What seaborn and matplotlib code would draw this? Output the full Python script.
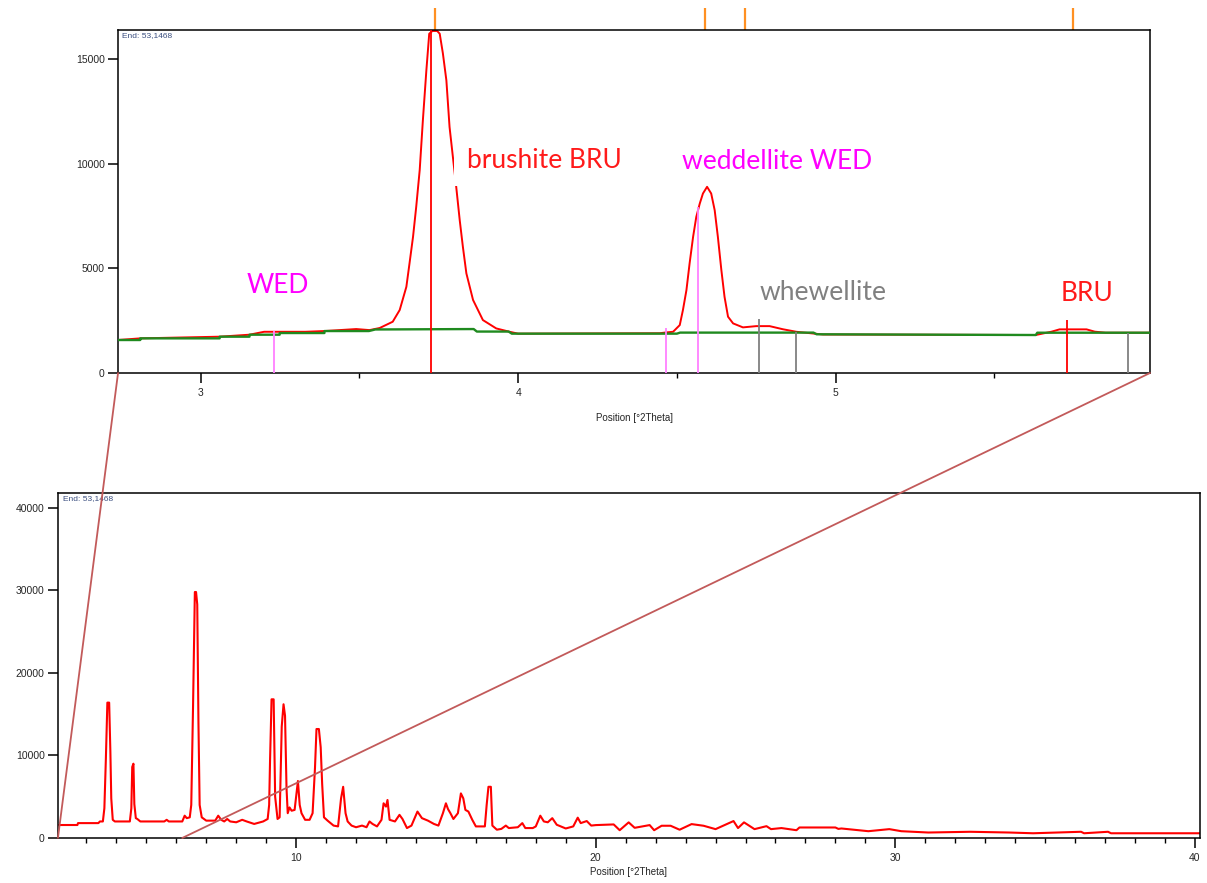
import numpy as np
import matplotlib
matplotlib.use("Agg")
import matplotlib.pyplot as plt
from matplotlib.patches import ConnectionPatch
import seaborn as sns

# ── Zoomed profile (2.74 - 5.99 °2Theta) ──────────────────────
zoom_x = [2.74, 2.81, 3.06, 3.154, 3.20, 3.33, 3.39, 3.49, 3.532, 3.564, 3.605,
          3.627, 3.648, 3.658, 3.669, 3.679, 3.690, 3.700, 3.711, 3.720, 3.730,
          3.745, 3.753, 3.763, 3.774, 3.784, 3.805, 3.816, 3.826, 3.837, 3.858,
          3.889, 3.931, 3.973, 4.00, 4.446, 4.467, 4.488, 4.509, 4.519, 4.530,
          4.540, 4.551, 4.561, 4.572, 4.582, 4.595, 4.608, 4.619, 4.629, 4.640,
          4.650, 4.661, 4.677, 4.708, 4.750, 4.792, 4.834, 4.876, 4.908, 4.960,
          5.63, 5.68, 5.705, 5.79, 5.816, 5.85, 5.99]
zoom_y = [1576, 1655, 1735, 1830, 1970, 1970, 2005, 2100, 2050, 2150, 2450,
          3010, 4120, 5250, 6510, 7940, 9700, 12080, 14470, 16220, 16350,
          16350, 16220, 15280, 13990, 11760, 8900, 7310, 6030, 4760, 3490,
          2530, 2130, 1970, 1880, 1900, 1940, 1970, 2290, 3010, 3960,
          5240, 6510, 7460, 8100, 8580, 8900, 8580, 7780, 6510, 4920,
          3640, 2690, 2370, 2180, 2240, 2240, 2090, 1970, 1920, 1840,
          1815, 1975, 2085, 2085, 1975, 1925, 1925]

bg_x = [2.74, 2.81, 2.81, 3.06, 3.06, 3.154, 3.154, 3.249, 3.249, 3.39, 3.39,
        3.53, 3.55, 3.86, 3.87, 3.97, 3.98, 4.50, 4.51, 4.93, 4.94, 5.63,
        5.635, 5.99]
bg_y = [1576, 1576, 1655, 1655, 1735, 1735, 1830, 1830, 1910, 1910, 2005,
        2005, 2080, 2100, 1980, 1980, 1880, 1880, 1930, 1930, 1850, 1815,
        1925, 1925]

# reference sticks (position, height)
wed_x = [3.231, 4.467, 4.566]
wed_h = [2020, 2130, 7950]
bru_x = [3.726, 5.729]
bru_h = [16400, 2530]
whe_x = [4.759, 4.874, 5.921]
whe_h = [2560, 1970, 1895]
orange_x = [3.737, 4.587, 4.713, 5.746]

# ── Full profile (2 - 40 °2Theta) ─────────────────────────────
full_x = [2.05, 2.7, 2.72, 3.4, 3.45, 3.55, 3.6, 3.65, 3.7, 3.76, 3.8, 3.83,
          3.88, 3.95, 4.45, 4.5, 4.53, 4.57, 4.6, 4.65, 4.7, 4.8, 5.6, 5.68,
          5.75, 6.2, 6.28, 6.35, 6.45, 6.5, 6.56, 6.62, 6.66, 6.7, 6.74, 6.78,
          6.85, 7.0, 7.3, 7.4, 7.5, 7.6, 7.7, 7.8, 8.0, 8.2, 8.35, 8.6, 8.9,
          9.05, 9.1, 9.13, 9.18, 9.25, 9.3, 9.38, 9.45, 9.52, 9.58, 9.63, 9.68,
          9.72, 9.78, 9.85, 9.95, 10.06, 10.12, 10.18, 10.3, 10.45, 10.55,
          10.63, 10.68, 10.76, 10.82, 10.87, 10.93, 11.05, 11.25, 11.4, 11.5,
          11.57, 11.65, 11.72, 11.85, 12.0, 12.2, 12.35, 12.45, 12.55, 12.7,
          12.85, 12.92, 13.0, 13.05, 13.12, 13.3, 13.45, 13.55, 13.7, 13.85,
          14.05, 14.2, 14.4, 14.6, 14.75, 14.9, 15.0, 15.07, 15.15, 15.25,
          15.4, 15.5, 15.58, 15.65, 15.75, 15.88, 16.0, 16.3, 16.36, 16.42,
          16.5, 16.55, 16.7, 16.85, 17.0, 17.1, 17.4, 17.55, 17.65, 17.9, 18.0,
          18.15, 18.27, 18.4, 18.55, 18.7, 19.0, 19.25, 19.4, 19.5, 19.7,
          19.85, 20.0, 20.6, 20.8, 21.1, 21.3, 21.8, 21.95, 22.2, 22.5, 22.8,
          23.2, 23.6, 24.0, 24.6, 24.75, 24.95, 25.3, 25.7, 25.85, 26.2, 26.7,
          26.8, 28.0, 28.1, 28.2, 29.1, 29.8, 30.2, 31.1, 32.5, 33.8, 34.6,
          36.2, 36.3, 37.1, 37.2, 40.17]
full_y = [1570, 1570, 1800, 1800, 2000, 2000, 3600, 9600, 16400, 16400, 10500,
          4800, 2200, 2000, 2000, 3600, 8600, 9000, 4100, 2400, 2300, 2000,
          2000, 2200, 2000, 2000, 2700, 2400, 2500, 4000, 16000, 29800, 29800,
          28300, 14000, 4000, 2500, 2100, 2100, 2700, 2200, 2000, 2300, 2000,
          1900, 2200, 2000, 1700, 2000, 2300, 4000, 9400, 16800, 16800, 5000,
          2300, 2500, 13500, 16200, 14800, 6000, 3000, 3700, 3300, 3400, 6900,
          4000, 3000, 2200, 2200, 3000, 8500, 13200, 13200, 11000, 6500, 2500,
          2100, 1500, 1400, 4800, 6200, 3000, 2000, 1500, 1300, 1500, 1300,
          2000, 1700, 1400, 2200, 4200, 3800, 4600, 2200, 2000, 2800, 2300,
          1200, 1500, 3200, 2400, 2100, 1700, 1500, 3000, 4200, 3500, 3000,
          2300, 3000, 5400, 4800, 3400, 3200, 2200, 1400, 1400, 4000, 6200,
          6200, 1500, 1000, 1100, 1500, 1200, 1300, 1800, 1200, 1200, 1400,
          2700, 2000, 1900, 2400, 1600, 1150, 1400, 2460, 1800, 2050, 1500,
          1560, 1640, 940, 1890, 1230, 1560, 940, 1480, 1480, 1000, 1680,
          1480, 1070, 2050, 1200, 1890, 1070, 1430, 1070, 1200, 940, 1270,
          1270, 1100, 1150, 820, 1070, 820, 660, 750, 660, 570, 750, 570, 750,
          570, 570]

XLABEL = "Position [°2Theta]"
END_TEXT = "End: 53,1468"

sns.set_theme(style="ticks")
plt.rcParams["font.family"] = ["Liberation Sans", "DejaVu Sans"]
plt.rcParams["axes.linewidth"] = 1.1
plt.rcParams["xtick.major.width"] = 1.1
plt.rcParams["ytick.major.width"] = 1.1
plt.rcParams["xtick.minor.width"] = 1.0

fig = plt.figure(figsize=(12.07, 8.83), dpi=100)
ax_top = fig.add_axes([0.0978, 0.5776, 0.8550, 0.3885])
ax_bot = fig.add_axes([0.0480, 0.0510, 0.9462, 0.3907])

# ── top: zoom window ─────────────────────────────────────────
sns.lineplot(x=zoom_x, y=zoom_y, ax=ax_top, color="#ff0000", lw=1.4,
             estimator=None, sort=False, zorder=2)
sns.lineplot(x=bg_x, y=bg_y, ax=ax_top, color="#1f8a1f", lw=1.7,
             estimator=None, sort=False, zorder=3)
ax_top.vlines(wed_x, 0, wed_h, colors="#ff80ff", lw=1.3, zorder=4)
ax_top.vlines(bru_x, 0, bru_h, colors="#ff0000", lw=1.3, zorder=4)
ax_top.vlines(whe_x, 0, whe_h, colors="#808080", lw=1.3, zorder=4)
ax_top.vlines(orange_x, 1.0, 1.064, transform=ax_top.get_xaxis_transform(),
              colors="#ff9022", lw=1.6, clip_on=False)

ax_top.set_xlim(2.74, 5.99)
ax_top.set_ylim(0, 16400)
ax_top.set_xticks([3, 4, 5])
ax_top.set_xticks([3.5, 4.5, 5.5], minor=True)
ax_top.set_yticks([0, 5000, 10000, 15000])

lab = dict(family=["Lato", "DejaVu Sans"], fontsize=19, va="center")
ax_top.text(3.243, 4200, "WED", color="#ff00ff", ha="center", **lab)
ax_top.text(3.838, 10170, "brushite BRU", color="#ff1a1a", ha="left",
            bbox=dict(boxstyle="square,pad=0.5", fc="white", ec="none"),
            zorder=5, **lab)
ax_top.text(4.814, 10120, "weddellite WED", color="#ff00ff", ha="center", **lab)
ax_top.text(4.959, 3870, "whewellite", color="#808080", ha="center", **lab)
ax_top.text(5.79, 3820, "BRU", color="#ff1a1a", ha="center", **lab)

# ── bottom: full pattern ─────────────────────────────────────
sns.lineplot(x=full_x, y=full_y, ax=ax_bot, color="#ff0000", lw=1.5,
             estimator=None, sort=False)
ax_bot.set_xlim(2.05, 40.17)
ax_bot.set_ylim(0, 41800)
ax_bot.set_xticks([10, 20, 30, 40])
ax_bot.set_xticks(np.arange(3, 41, 1), minor=True)
ax_bot.set_yticks([0, 10000, 20000, 30000, 40000])

for ax, pad in ((ax_top, 11), (ax_bot, 3)):
    ax.set_xlabel(XLABEL, fontsize=7, labelpad=pad)
    ax.set_ylabel("")
    ax.tick_params(axis="both", which="major", length=7.5, labelsize=7.5,
                   pad=2, color="black")
    ax.tick_params(axis="x", which="minor", length=3.5, color="black")
    ax.tick_params(axis="x", which="major", pad=3)
    for s in ax.spines.values():
        s.set_visible(True)
        s.set_color("black")
    ax.text(0.004, 0.995, END_TEXT, transform=ax.transAxes, fontsize=6,
            color="#3b4f80", ha="left", va="top")

# ── connector lines between the two panels ───────────────────
for xa, xb in ((2.74, 2.05), (5.99, 6.2)):
    con = ConnectionPatch(xyA=(xa, 0), coordsA=ax_top.transData,
                          xyB=(xb, 0), coordsB=ax_bot.transData,
                          color="#c25a5a", lw=1.3, zorder=10)
    fig.add_artist(con)

fig.savefig("out.png", dpi=100)
plt.close()
